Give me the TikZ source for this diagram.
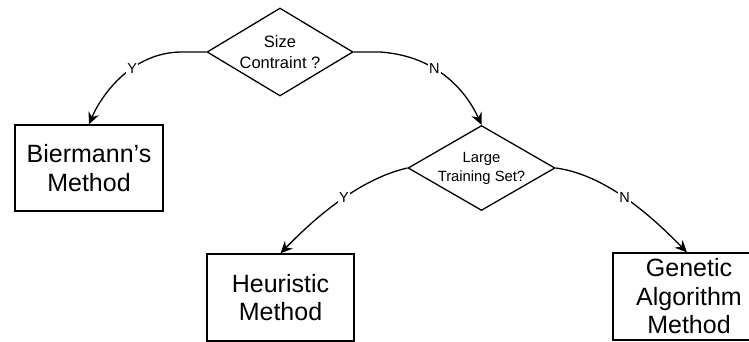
\documentclass[tikz,border=0pt]{standalone}
\usepackage{fontspec}
\setmainfont{Liberation Sans}
\usetikzlibrary{shapes.geometric,arrows.meta}
\begin{document}
\begin{tikzpicture}[x=1pt,y=-1pt,line width=1.3pt,
  decision/.style={diamond, draw, inner sep=0pt, align=center},
  method/.style={rectangle, draw, inner sep=0pt, align=center,
    font=\fontsize{25}{28.5}\selectfont},
  flow/.style={-{Stealth[length=12pt,width=11pt,inset=4pt]}},
  answer/.style={fill=white, inner sep=1.5pt, font=\fontsize{14.5}{16}\selectfont}]
\useasboundingbox (0,0) rectangle (749,342);

% decisions
\node[decision, aspect=1.66, minimum width=146pt, minimum height=88pt,
  font=\fontsize{16.5}{21.7}\selectfont] (size) at (280,52) {Size\\Contraint ?};
\node[decision, aspect=1.73, minimum width=147pt, minimum height=85pt,
  font=\fontsize{14.8}{19}\selectfont] (large) at (481.5,168) {Large\\Training Set?};

% methods
\node[method, minimum width=148pt, minimum height=86pt] (bier) at (89,168) {Biermann’s\\Method};
\node[method, minimum width=147pt, minimum height=87pt] (heur) at (280.5,297.5) {Heuristic\\Method};
\node[method, minimum width=152pt, minimum height=87pt] (gen) at (689,296.5) {Genetic\\Algorithm\\Method};

% branches
\draw[flow] (size.west) -- (182,52) .. controls (130,52) and (100,98) .. (bier.north)
  node[answer, pos=0.38] {Y};
\draw[flow] (size.east) -- (380,52) .. controls (440,56) and (468,95) .. (large.north)
  node[answer, pos=0.37] {N};
\draw[flow] (large.west) .. controls (355,180) and (308,225) .. (heur.north)
  node[answer, pos=0.43] {Y};
\draw[flow] (large.east) .. controls (610,175) and (660,225) .. ([xshift=-2pt]gen.north)
  node[answer, pos=0.45] {N};
\end{tikzpicture}
\end{document}
